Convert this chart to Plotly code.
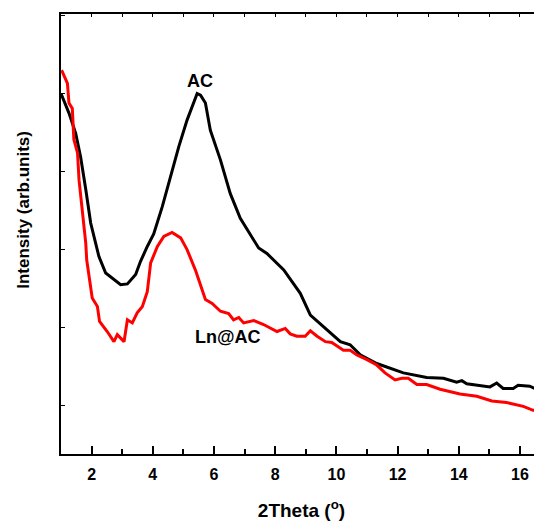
import plotly.graph_objects as go

ac_x = [1.0, 1.26, 1.48, 1.64, 1.81, 1.97, 2.24, 2.46, 2.95, 3.17, 3.44, 3.60, 3.82, 4.03, 4.31,
        4.52, 4.85, 5.12, 5.45, 5.56, 5.72, 5.88, 6.21, 6.53, 6.86, 7.46, 7.73, 8.28, 8.82, 9.15,
        9.69, 10.13, 10.45, 10.78, 11.32, 12.19, 12.95, 13.50, 13.93, 14.10, 14.26, 15.02, 15.24,
        15.45, 15.78, 15.94, 16.32, 16.72]
ac_y = [500, 475, 449, 419, 377, 334, 291, 270, 255, 256, 268, 285, 304, 320, 355,
        385, 432, 466, 500, 498, 488, 453, 415, 372, 340, 302, 295, 274, 244, 216,
        197, 182, 178, 165, 154, 142, 136, 135, 130, 132, 128, 124, 129,
        122, 122, 126, 125, 118]

ln_x = [1.02, 1.21, 1.26, 1.37, 1.42, 1.54, 1.59, 1.70, 1.81, 1.84, 1.91, 2.02, 2.19, 2.26, 2.51,
        2.73, 2.84, 3.06, 3.17, 3.33, 3.49, 3.66, 3.82, 3.93, 4.15, 4.36, 4.63, 4.91, 5.12, 5.39,
        5.72, 5.94, 6.21, 6.48, 6.64, 6.81, 6.97, 7.30, 7.62, 8.06, 8.33, 8.49, 8.71, 8.98, 9.15,
        9.37, 9.64, 9.85, 10.23, 10.45, 10.67, 11.00, 11.32, 11.59, 11.92, 12.14, 12.35, 12.63,
        12.95, 13.39, 14.04, 14.59, 15.08, 15.56, 16.11, 16.43, 16.72]
ln_y = [530, 513, 488, 481, 441, 424, 389, 351, 308, 287, 270, 238, 227, 208, 195,
        182, 191, 182, 210, 206, 219, 227, 246, 283, 304, 317, 322, 315, 300, 274,
        236, 231, 221, 218, 210, 213, 206, 209, 204, 195, 199, 192, 189, 189, 196,
        189, 182, 181, 171, 171, 165, 159, 152, 142, 133, 135, 135, 127,
        127, 121, 115, 112, 106, 104, 99, 94, 94]

x_ticks = [2, 4, 6, 8, 10, 12, 14, 16]
labels = {"AC": (5.55, 516), "Ln@AC": (6.47, 188)}

FONT = "Liberation Sans, Arial, sans-serif"

fig = go.Figure()
fig.add_trace(go.Scatter(x=ac_x, y=ac_y, mode="lines", line=dict(color="black", width=3),
                         name="AC", showlegend=False))
fig.add_trace(go.Scatter(x=ln_x, y=ln_y, mode="lines", line=dict(color="#ff0000", width=3),
                         name="Ln@AC", showlegend=False))
# invisible trace so the top axis is drawn
fig.add_trace(go.Scatter(x=[1], y=[38], xaxis="x2", mode="markers", marker=dict(opacity=0),
                         showlegend=False, hoverinfo="skip"))

for txt, (tx, ty) in labels.items():
    fig.add_annotation(x=tx, y=ty, text=f"<b>{txt}</b>", showarrow=False,
                       font=dict(family=FONT, size=18, color="black"))

fig.add_annotation(xref="paper", yref="paper", x=-0.077, y=0.555, text="<b>Intensity (arb.units)</b>",
                   textangle=-90, showarrow=False, xanchor="center", yanchor="middle",
                   font=dict(family=FONT, size=17, color="black"))

fig.update_layout(
    width=534, height=514,
    margin=dict(l=53, r=0, t=6, b=68),
    plot_bgcolor="white", paper_bgcolor="white",
    xaxis=dict(range=[1, 16.72], tickvals=x_ticks, ticktext=[f"<b>{v}</b>" for v in x_ticks],
               showline=True, linecolor="black", linewidth=2, ticks="inside", ticklen=8,
               tickwidth=2, tickcolor="black", showgrid=False, zeroline=False,
               ticklabelstandoff=5,
               minor=dict(ticks="inside", dtick=1, tick0=1, ticklen=5, tickwidth=2, tickcolor="black"),
               tickfont=dict(family=FONT, size=16, color="black"),
               title=dict(text="<b>2Theta (<sup>o</sup>)</b>", standoff=21,
                          font=dict(family=FONT, size=19, color="black"))),
    xaxis2=dict(range=[1, 16.72], overlaying="x", side="top", showline=True, linecolor="black",
                linewidth=2, ticks="inside", ticklen=3, dtick=1, tick0=1, tickcolor="black",
                showticklabels=False, showgrid=False, zeroline=False),
    yaxis=dict(range=[38, 602], showline=True, linecolor="black", linewidth=2, ticks="inside",
               ticklen=4, tickwidth=1, tickcolor="black", dtick=100, tick0=0,
               showticklabels=False, showgrid=False, zeroline=False),
)

fig.write_html("out.html")
